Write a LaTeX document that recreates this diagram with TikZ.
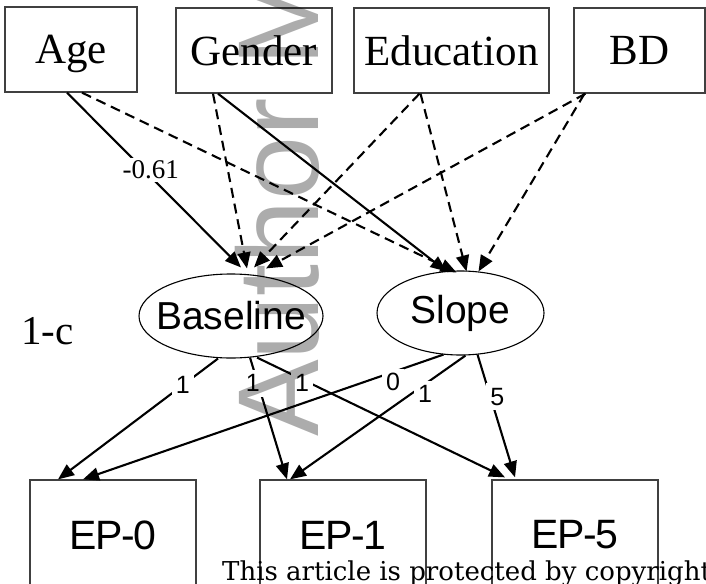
\documentclass[tikz,border=0pt]{standalone}
\usepackage{fontspec}
\setmainfont{Liberation Serif}
\newfontfamily\arialf{Liberation Sans}
\newfontfamily\epf[LetterSpace=-3]{Liberation Sans}
\newfontfamily\notef{DejaVu Serif}
\usetikzlibrary{arrows.meta,shapes.geometric,calc}
\definecolor{wmgray}{RGB}{172,172,172}
\begin{document}
\begin{tikzpicture}[x=1pt,y=-1pt,
  varbox/.style={draw=black!75, line width=1.3pt, rectangle, minimum width=#1, minimum height=85pt, inner sep=0pt, text depth=0pt, font=\fontsize{43}{50}\selectfont},
  latent/.style={draw, ellipse, line width=1.1pt, minimum width=#1, minimum height=84pt, inner sep=0pt},
  latenttext/.style={inner sep=0pt, font=\arialf\fontsize{39}{45}\selectfont},
  obsbox/.style={draw=black!75, line width=1.3pt, rectangle, minimum width=166pt, minimum height=110pt, inner sep=0pt, font=\epf\fontsize{41}{46}\selectfont},
  solidarrow/.style={line width=2.1pt, -{Triangle[length=16pt,width=13pt]}},
  dasharrow/.style={line width=2.1pt, dash pattern=on 10pt off 6pt, -{Triangle[length=16pt,width=13pt]}},
  lbl/.style={fill=white, inner sep=4pt, minimum height=27pt, font=\arialf\fontsize{25}{28}\selectfont},
  serlbl/.style={fill=white, inner sep=3pt, font=\fontsize{27}{30}\selectfont}
]
\useasboundingbox (0,0) rectangle (706,583);
\clip (0,0) rectangle (706,583);

% top observed variables
\node[varbox=132pt] (age) at (71,49.5) {Age};
\node[varbox=156pt] (gender) at (254,50.5) {Gender};
\node[varbox=195pt] (edu) at (451.5,50.5) {Education};
\node[varbox=131pt] (bd) at (639.5,50.5) {BD};

% latent variables
\node[latent=184pt] (base) at (231,316) {};
\node[latenttext] (basetext) at (base.center) {Baseline};
\node[latent=167pt] (slope) at (460.5,313) {};
\node[latenttext] (slopetext) at (slope.center) {Slope};

\node[font=\fontsize{41}{46}\selectfont, inner sep=0pt] (tag) at (47.5,331.5) {1-c};

% bottom observed variables
\node[obsbox] (ep0) at (113,535) {EP-0};
\node[obsbox] (ep1) at (343,535) {EP-1};
\node[obsbox] (ep5) at (575,535) {EP-5};

% covariates -> latent
\draw[solidarrow] ($(age.south)+(-4,0)$) -- node[serlbl, pos=0.47, xshift=2pt, yshift=5pt] (lage) {-0.61} ($(base.north)+(10,-6)$);
\draw[dasharrow] ($(age.south)+(11,0)$) -- ($(slope.north)+(-4,2)$);
\draw[dasharrow] ($(gender.south)+(-41,0)$) -- ($(base.north)+(16,-5)$);
\draw[solidarrow] ($(gender.south)+(-36,0)$) -- ($(slope.north)+(-14,1)$);
\draw[dasharrow] ($(edu.south)+(-32,0)$) -- ($(base.north)+(23,-6)$);
\draw[dasharrow] ($(edu.south)+(-31,0)$) -- ($(slope.north)+(6,1)$);
\draw[dasharrow] ($(bd.south)+(-54,0)$) -- ($(base.north)+(35,-5)$);
\draw[dasharrow] ($(bd.south)+(-55,0)$) -- ($(slope.north)+(18,1)$);

% latent -> outcomes
\draw[solidarrow] ($(base.south)+(-13,0)$) -- node[lbl, pos=0.22] (lb0) {1} ($(ep0.north)+(-55,0)$);
\draw[solidarrow] ($(base.south)+(19,-1)$) -- node[lbl, pos=0.21, xshift=-5pt] (lb1) {1} ($(ep1.north)+(-56,0)$);
\draw[solidarrow] ($(base.south)+(26,-1)$) -- node[lbl, pos=0.19, xshift=-2pt, yshift=-3pt] (lb5) {1} ($(ep5.north)+(-70,-2)$);
\draw[solidarrow] ($(slope.south)+(-17,-1)$) -- node[lbl, pos=0.14, yshift=-10pt] (ls0) {0} ($(ep0.north)+(-30,0)$);
\draw[solidarrow] ($(slope.south)+(5,0)$) -- node[lbl, pos=0.23, yshift=-10pt] (ls1) {1} ($(ep1.north)+(-53,0)$);
\draw[solidarrow] ($(slope.south)+(17,-1)$) -- node[lbl, pos=0.344, xshift=7pt] (ls5) {5} ($(ep5.north)+(-60,-2)$);

% overlays
\begin{scope}[blend mode=multiply]
\node[rotate=90, anchor=base west, inner sep=0pt, text=wmgray, font=\arialf\fontsize{115}{120}\selectfont] (wm) at (318,437) {Author Manuscript};
\end{scope}
\node[anchor=base west, inner sep=0pt, font=\notef\fontsize{26}{30}\selectfont] (copy) at (222,580) {This article is protected by copyright};
\end{tikzpicture}
\end{document}
